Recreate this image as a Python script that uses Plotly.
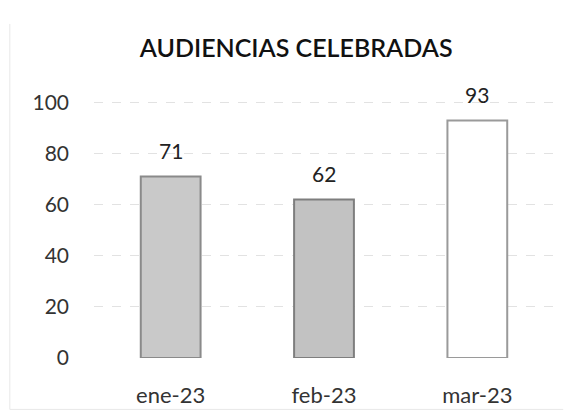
import plotly.graph_objects as go

categories = ["ene-23", "feb-23", "mar-23"]
values = [71, 62, 93]
fill_colors = ["#c9c9c9", "#c2c2c2", "#ffffff"]
line_colors = ["#8a8a8a", "#7e7e7e", "#9a9a9a"]
y_ticks = [0, 20, 40, 60, 80, 100]

FONT = "Lato, Carlito, sans-serif"

fig = go.Figure()
fig.add_trace(go.Bar(
    x=categories, y=values,
    marker=dict(color=fill_colors, line=dict(color=line_colors, width=2)),
    width=0.39,
    hoverinfo="skip",
))

for c, v in zip(categories, values):
    fig.add_annotation(x=c, y=v, text=str(v), showarrow=False,
                       yshift=26, font=dict(size=21, color="#222222", family=FONT))

# page body has an 8px default margin, so the figure is sized 8px smaller
fig.update_layout(
    width=565, height=411,
    margin=dict(l=86, r=19, t=93, b=61),
    paper_bgcolor="white", plot_bgcolor="white",
    showlegend=False,
    title=dict(text="AUDIENCIAS CELEBRADAS", x=0.51, xanchor="center",
               y=0.903, yanchor="middle",
               font=dict(size=25, color="#111111", family=FONT, weight=600)),
    font=dict(family=FONT, size=21, color="#333333"),
    xaxis=dict(showgrid=False, showline=False, zeroline=False, ticks="",
               ticklabelstandoff=22, tickfont=dict(size=22, color="#333333")),
    yaxis=dict(range=[0, 100.6], tickvals=y_ticks, showgrid=True,
               gridcolor="#e2e2e2", griddash="dash", gridwidth=1,
               zeroline=False, showline=False, ticks="",
               ticklabelstandoff=24, tickfont=dict(size=21, color="#333333")),
)

fig.add_shape(type="line", xref="paper", yref="paper",
              x0=-0.183, x1=-0.183, y0=-0.2, y1=1.3,
              line=dict(color="#e8e8e8", width=1), layer="below")
fig.add_shape(type="line", xref="paper", yref="paper",
              x0=-0.183, x1=1.02, y0=-0.2, y1=-0.2,
              line=dict(color="#e8e8e8", width=1), layer="below")

fig.write_html("out.html")
